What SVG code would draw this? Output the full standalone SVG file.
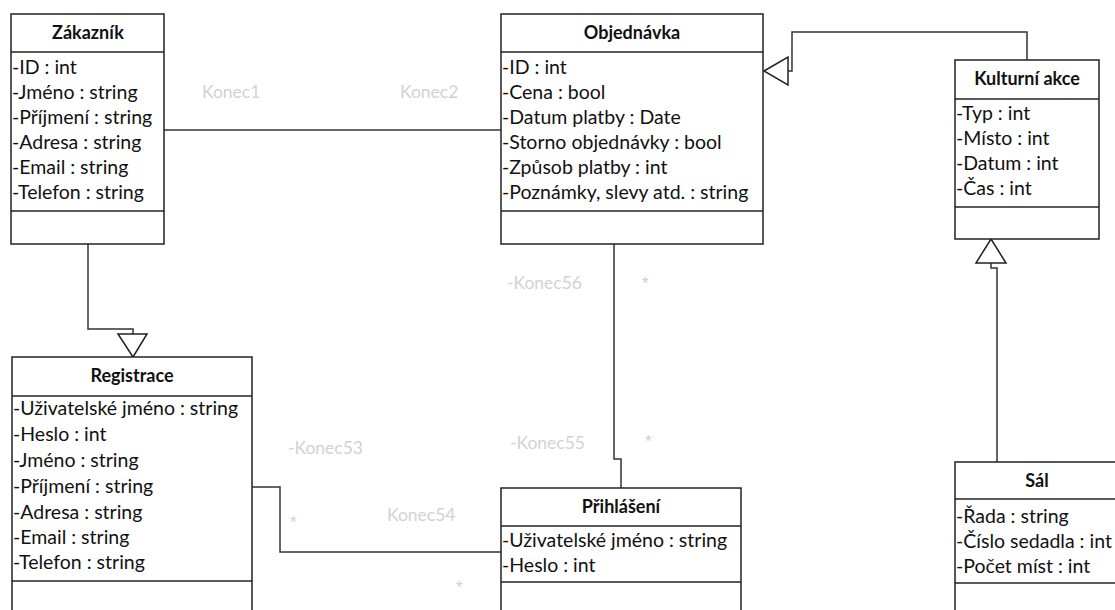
<svg xmlns="http://www.w3.org/2000/svg" width="1115" height="610" viewBox="0 0 1115 610">
<style>
.box{fill:#fff;stroke:#222;stroke-width:1.5}
.div{stroke:#222;stroke-width:1.5}
.t{font-family:Lato,"Open Sans","Liberation Sans",sans-serif;font-size:19.5px;fill:#111}
.h{font-family:Lato,"Open Sans","Liberation Sans",sans-serif;font-size:18px;font-weight:bold;fill:#111;text-anchor:middle}
.c{fill:none;stroke:#333;stroke-width:1.5}
.tri{fill:#fff;stroke:#222;stroke-width:1.5}
.lbl{font-family:Lato,"Open Sans","Liberation Sans",sans-serif;font-size:17.5px;fill:#d2d2d2}
.st{font-family:"Liberation Sans",sans-serif;font-size:17px;fill:#cfcfcf}
</style>
<rect width="1115" height="610" fill="#fff"/>
<g id="connectors">
<polyline class="c" points="164,130 501,130"/>
<polyline class="c" points="1027,60 1027,32 792,32 792,71 788,71"/>
<polygon class="tri" points="764,71 788,57 788,85"/>
<polyline class="c" points="997,462 997,268 991,268 991,263"/>
<polygon class="tri" points="991,239 976,263 1006,263"/>
<polyline class="c" points="88,244 88,329 133,329 133,334"/>
<polygon class="tri" points="133,357 118,334 147,334"/>
<polyline class="c" points="614,244 614,459 621,459 621,488"/>
<polyline class="c" points="252,487 280,487 280,552 501,552"/>
<text class="lbl" x="202" y="98">Konec1</text>
<text class="lbl" x="400" y="98">Konec2</text>
<text class="lbl" x="507" y="289">-Konec56</text>
<text class="st" x="642" y="289">*</text>
<text class="lbl" x="510" y="449">-Konec55</text>
<text class="st" x="645" y="447">*</text>
<text class="lbl" x="288" y="454">-Konec53</text>
<text class="st" x="290" y="528">*</text>
<text class="lbl" x="387" y="521">Konec54</text>
<text class="st" x="456" y="593">*</text>
</g>
<g id="zakaznik">
<rect class="box" x="11" y="14" width="153" height="230"/>
<line class="div" x1="11" y1="52" x2="164" y2="52"/>
<line class="div" x1="11" y1="211" x2="164" y2="211"/>
<text class="h" x="88" y="39">Zákazník</text>
<text class="t" x="12" y="74">-ID : int</text>
<text class="t" x="12" y="99">-Jméno : string</text>
<text class="t" x="12" y="124">-Příjmení : string</text>
<text class="t" x="12" y="149">-Adresa : string</text>
<text class="t" x="12" y="174">-Email : string</text>
<text class="t" x="12" y="199">-Telefon : string</text>
</g>
<g id="objednavka">
<rect class="box" x="501" y="14" width="262" height="230"/>
<line class="div" x1="501" y1="52" x2="763" y2="52"/>
<line class="div" x1="501" y1="211" x2="763" y2="211"/>
<text class="h" x="632" y="39">Objednávka</text>
<text class="t" x="502" y="74">-ID : int</text>
<text class="t" x="502" y="99">-Cena : bool</text>
<text class="t" x="502" y="124">-Datum platby : Date</text>
<text class="t" x="502" y="149">-Storno objednávky : bool</text>
<text class="t" x="502" y="174">-Způsob platby : int</text>
<text class="t" x="502" y="199">-Poznámky, slevy atd. : string</text>
</g>
<g id="kulturni-akce">
<rect class="box" x="955" y="60" width="144" height="179"/>
<line class="div" x1="955" y1="99" x2="1099" y2="99"/>
<line class="div" x1="955" y1="207" x2="1099" y2="207"/>
<text class="h" x="1027" y="85">Kulturní akce</text>
<text class="t" x="956" y="120">-Typ : int</text>
<text class="t" x="956" y="145">-Místo  : int</text>
<text class="t" x="956" y="170">-Datum  : int</text>
<text class="t" x="956" y="195">-Čas : int</text>
</g>
<g id="registrace">
<rect class="box" x="12" y="357" width="240" height="270"/>
<line class="div" x1="12" y1="396" x2="252" y2="396"/>
<line class="div" x1="12" y1="581" x2="252" y2="581"/>
<text class="h" x="132" y="382">Registrace</text>
<text class="t" x="13" y="415">-Uživatelské jméno : string</text>
<text class="t" x="13" y="441">-Heslo : int</text>
<text class="t" x="13" y="467">-Jméno : string</text>
<text class="t" x="13" y="493">-Příjmení : string</text>
<text class="t" x="13" y="519">-Adresa : string</text>
<text class="t" x="13" y="544">-Email : string</text>
<text class="t" x="13" y="569">-Telefon : string</text>
</g>
<g id="prihlaseni">
<rect class="box" x="501" y="488" width="240" height="140"/>
<line class="div" x1="501" y1="526" x2="741" y2="526"/>
<line class="div" x1="501" y1="582" x2="741" y2="582"/>
<text class="h" x="621" y="513">Přihlášení</text>
<text class="t" x="502" y="547">-Uživatelské jméno : string</text>
<text class="t" x="502" y="572">-Heslo : int</text>
</g>
<g id="sal">
<rect class="box" x="955" y="462" width="165" height="170"/>
<line class="div" x1="955" y1="499" x2="1115" y2="499"/>
<line class="div" x1="955" y1="583" x2="1115" y2="583"/>
<text class="h" x="1037" y="487">Sál</text>
<text class="t" x="956" y="523">-Řada : string</text>
<text class="t" x="956" y="548">-Číslo sedadla : int</text>
<text class="t" x="956" y="573">-Počet míst : int</text>
</g>
</svg>
